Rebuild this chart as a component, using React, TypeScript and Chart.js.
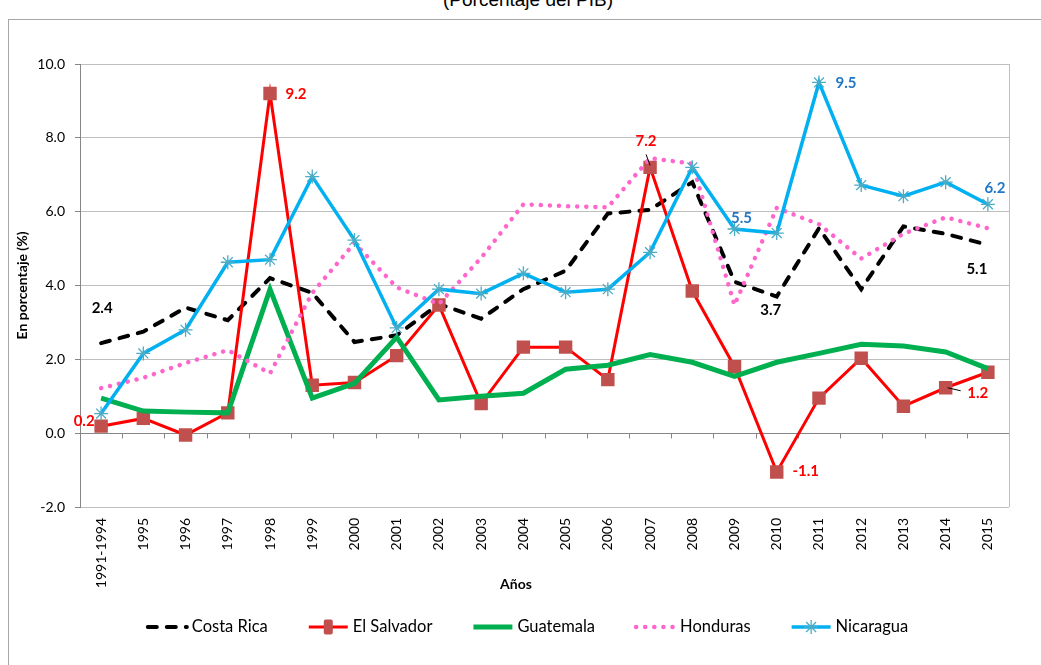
import React, { useEffect, useRef } from "react";
import { Chart, registerables } from "chart.js";

Chart.register(...registerables);

const categories = [
  "1991-1994", "1995", "1996", "1997", "1998", "1999", "2000", "2001", "2002", "2003", "2004",
  "2005", "2006", "2007", "2008", "2009", "2010", "2011", "2012", "2013", "2014", "2015",
];

const seriesNames = ["Costa Rica", "El Salvador", "Guatemala", "Honduras", "Nicaragua"];

const costaRica = [2.44, 2.75, 3.4, 3.06, 4.2, 3.8, 2.47, 2.65, 3.5, 3.1, 3.9, 4.4, 5.95, 6.05, 6.8, 4.1, 3.7, 5.55, 3.9, 5.6, 5.4, 5.1];
const elSalvador = [0.19, 0.4, -0.05, 0.55, 9.2, 1.3, 1.37, 2.1, 3.47, 0.8, 2.33, 2.33, 1.45, 7.2, 3.85, 1.8, -1.05, 0.95, 2.03, 0.73, 1.23, 1.65];
const guatemala = [0.95, 0.6, 0.57, 0.55, 3.9, 0.95, 1.35, 2.6, 0.9, 1.0, 1.08, 1.73, 1.84, 2.13, 1.92, 1.54, 1.92, 2.16, 2.41, 2.36, 2.2, 1.75];
const honduras = [1.22, 1.5, 1.9, 2.25, 1.62, 3.8, 5.15, 3.95, 3.5, 4.75, 6.2, 6.15, 6.12, 7.45, 7.3, 3.47, 6.1, 5.66, 4.73, 5.4, 5.85, 5.55];
const nicaragua = [0.53, 2.16, 2.8, 4.63, 4.7, 6.95, 5.23, 2.85, 3.9, 3.78, 4.33, 3.82, 3.9, 4.9, 7.2, 5.53, 5.42, 9.5, 6.72, 6.42, 6.8, 6.2];

const yMin = -2;
const yMax = 10;
const yStep = 2;

// Which points carry a value label (series index, category index)
const labelledPoints = [
  { series: 0, index: 0 },
  { series: 0, index: 16 },
  { series: 0, index: 21 },
  { series: 1, index: 0 },
  { series: 1, index: 4 },
  { series: 1, index: 13 },
  { series: 1, index: 16 },
  { series: 1, index: 20 },
  { series: 4, index: 17 },
  { series: 4, index: 15 },
  { series: 4, index: 21 },
];

// label placement (pixels, style only)
const labelOffsets = [
  { dx: 1, dy: -35 },
  { dx: -6, dy: 14 },
  { dx: -11, dy: 24 },
  { dx: -17, dy: -5 },
  { dx: 26, dy: 1 },
  { dx: -4, dy: -26, leader: [-4, -13, 0, -2] },
  { dx: 29, dy: -1 },
  { dx: 32, dy: 5, leader: [2, 0, 15, 3] },
  { dx: 27, dy: 1 },
  { dx: 7, dy: -11 },
  { dx: 7, dy: -16 },
];

const labelColors = ["#000000", "#FF0000", "#00B050", "#FF66CC", "#2177C7"];
const FONT = "Lato, 'Open Sans', sans-serif";

function drawMarker(ctx: CanvasRenderingContext2D, style: string, x: number, y: number, r: number, fill: string, stroke: string, legend: boolean) {
  ctx.save();
  if (style === "rect") {
    ctx.fillStyle = fill;
    if (legend) {
      ctx.beginPath();
      const w = 9, h = 15, rr = 2;
      const x0 = x - w / 2, y0 = y - h / 2;
      ctx.moveTo(x0 + rr, y0);
      ctx.lineTo(x0 + w - rr, y0);
      ctx.quadraticCurveTo(x0 + w, y0, x0 + w, y0 + rr);
      ctx.lineTo(x0 + w, y0 + h - rr);
      ctx.quadraticCurveTo(x0 + w, y0 + h, x0 + w - rr, y0 + h);
      ctx.lineTo(x0 + rr, y0 + h);
      ctx.quadraticCurveTo(x0, y0 + h, x0, y0 + h - rr);
      ctx.lineTo(x0, y0 + rr);
      ctx.quadraticCurveTo(x0, y0, x0 + rr, y0);
      ctx.fill();
    } else {
      const s = Math.SQRT1_2 * r;
      ctx.fillRect(x - s, y - s, 2 * s, 2 * s);
    }
  } else if (style === "star") {
    ctx.strokeStyle = stroke;
    ctx.lineWidth = 1.3;
    ctx.setLineDash([]);
    ctx.beginPath();
    for (let k = 0; k < 4; k++) {
      const a = (k * Math.PI) / 4;
      ctx.moveTo(x - Math.cos(a) * r, y - Math.sin(a) * r);
      ctx.lineTo(x + Math.cos(a) * r, y + Math.sin(a) * r);
    }
    ctx.stroke();
  }
  ctx.restore();
}

const decorPlugin = {
  id: "decor",
  beforeDatasetsDraw(chart: any) {
    const { ctx, chartArea, scales } = chart;
    const x = scales.x;
    const y = scales.y;
    const zeroY = Math.round(y.getPixelForValue(0)) + 0.5;
    ctx.save();
    ctx.strokeStyle = "#868686";
    ctx.lineWidth = 1;
    ctx.beginPath();
    ctx.moveTo(chartArea.left, zeroY);
    ctx.lineTo(chartArea.right, zeroY);
    const step = x.getPixelForValue(1) - x.getPixelForValue(0);
    for (let i = 0; i <= categories.length; i++) {
      const px = Math.round(x.getPixelForValue(0) - step / 2 + i * step) + 0.5;
      ctx.moveTo(px, zeroY);
      ctx.lineTo(px, zeroY + 5);
    }
    ctx.stroke();
    ctx.strokeStyle = "#BFBFBF";
    ctx.beginPath();
    ctx.moveTo(Math.round(chartArea.right) + 0.5, chartArea.top);
    ctx.lineTo(Math.round(chartArea.right) + 0.5, chartArea.bottom);
    ctx.stroke();
    ctx.restore();
  },
  afterDatasetsDraw(chart: any) {
    const { ctx } = chart;
    ctx.save();
    ctx.font = `bold 15px ${FONT}`;
    ctx.textAlign = "center";
    ctx.textBaseline = "middle";
    labelledPoints.forEach((lp, k) => {
      const meta = chart.getDatasetMeta(lp.series);
      const pt = meta.data[lp.index];
      const val = chart.data.datasets[lp.series].data[lp.index] as number;
      const off = labelOffsets[k];
      if (off.leader) {
        const l = off.leader;
        ctx.strokeStyle = "#000";
        ctx.lineWidth = 1;
        ctx.setLineDash([]);
        ctx.beginPath();
        ctx.moveTo(pt.x + l[0], pt.y + l[1]);
        ctx.lineTo(pt.x + l[2], pt.y + l[3]);
        ctx.stroke();
      }
      ctx.fillStyle = labelColors[lp.series];
      ctx.fillText(val.toFixed(1), pt.x + off.dx, pt.y + off.dy);
    });
    ctx.restore();
  },
  afterDraw(chart: any) {
    const { ctx, chartArea } = chart;
    ctx.save();
    // axis titles
    ctx.fillStyle = "#000";
    ctx.font = `bold 14px ${FONT}`;
    ctx.textAlign = "center";
    ctx.textBaseline = "middle";
    ctx.fillText("Años", 516, 584);
    ctx.translate(22, (chartArea.top + chartArea.bottom) / 2);
    ctx.rotate(-Math.PI / 2);
    ctx.fillText("En porcentaje (%)", 0, 0);
    ctx.restore();

    // legend
    ctx.save();
    ctx.font = `16.5px ${FONT}`;
    ctx.textBaseline = "middle";
    ctx.textAlign = "left";
    const symW = 43;
    const gapT = 3;
    const gapI = 39;
    const widths = seriesNames.map((n) => ctx.measureText(n).width);
    const total = widths.reduce((a, b) => a + b, 0) + seriesNames.length * (symW + gapT) + (seriesNames.length - 1) * gapI;
    let cx = 527 - total / 2;
    const ly = 627;
    chart.data.datasets.forEach((ds: any, i: number) => {
      ctx.save();
      ctx.strokeStyle = ds.borderColor;
      ctx.lineWidth = ds.borderWidth;
      ctx.lineCap = ds.borderCapStyle || "butt";
      ctx.setLineDash(ds.borderDash || []);
      ctx.beginPath();
      ctx.moveTo(cx + 2, ly);
      ctx.lineTo(cx + symW - 2, ly);
      ctx.stroke();
      ctx.setLineDash([]);
      if (ds.pointStyle && ds.pointRadius > 0) {
        drawMarker(ctx, ds.pointStyle, cx + symW / 2, ly, ds.pointRadius, ds.pointBackgroundColor, ds.pointBorderColor, true);
      }
      ctx.restore();
      ctx.fillStyle = "#000";
      ctx.fillText(seriesNames[i], cx + symW + gapT, ly);
      cx += symW + gapT + widths[i] + gapI;
    });
    ctx.restore();
  },
};

export default function App() {
  const canvasRef = useRef<HTMLCanvasElement | null>(null);

  useEffect(() => {
    const canvas = canvasRef.current;
    if (!canvas) return;
    const chart = new Chart(canvas, {
      type: "line",
      data: {
        labels: categories,
        datasets: [
          {
            label: seriesNames[0],
            data: costaRica,
            borderColor: "#000000",
            borderWidth: 4,
            borderDash: [9, 10],
            borderCapStyle: "round",
            pointRadius: 0,
            pointHoverRadius: 0,
            tension: 0,
            order: 5,
          },
          {
            label: seriesNames[1],
            data: elSalvador,
            borderColor: "#FF0000",
            borderWidth: 3,
            pointStyle: "rect",
            pointRadius: 9.5,
            pointBackgroundColor: "#C0504D",
            pointBorderColor: "#C0504D",
            pointBorderWidth: 0,
            tension: 0,
            order: 4,
          },
          {
            label: seriesNames[2],
            data: guatemala,
            borderColor: "#00B050",
            borderWidth: 5,
            pointRadius: 0,
            pointHoverRadius: 0,
            tension: 0,
            order: 3,
          },
          {
            label: seriesNames[3],
            data: honduras,
            borderColor: "#FF66CC",
            borderWidth: 4.5,
            borderDash: [0.1, 9],
            borderCapStyle: "round",
            pointRadius: 0,
            pointHoverRadius: 0,
            tension: 0,
            order: 2,
          },
          {
            label: seriesNames[4],
            data: nicaragua,
            borderColor: "#00B0F0",
            borderWidth: 3.5,
            pointStyle: "star",
            pointRadius: 7,
            pointBackgroundColor: "#4BACC6",
            pointBorderColor: "#4BACC6",
            pointBorderWidth: 1.3,
            tension: 0,
            order: 1,
          },
        ],
      },
      options: {
        responsive: false,
        animation: false,
        devicePixelRatio: 1,
        layout: { padding: { top: 64, right: 32, left: 0, bottom: 0 } },
        plugins: {
          legend: { display: false },
          tooltip: { enabled: false },
          title: { display: false },
        },
        scales: {
          x: {
            type: "category",
            offset: true,
            grid: { display: false, drawTicks: false },
            border: { display: false },
            ticks: {
              autoSkip: false,
              maxRotation: 90,
              minRotation: 90,
              padding: 11,
              color: "#000",
              font: { family: FONT, size: 14 },
            },
            afterFit: (scale: any) => {
              scale.height = 665 - 507;
            },
          },
          y: {
            min: yMin,
            max: yMax,
            grid: { color: "#BFBFBF", tickColor: "#868686", tickLength: 5, lineWidth: 1 },
            border: { display: true, color: "#868686" },
            ticks: {
              stepSize: yStep,
              padding: 10,
              color: "#000",
              font: { family: FONT, size: 14 },
              callback: (v: any) => Number(v).toFixed(1),
            },
            afterFit: (scale: any) => {
              scale.width = 80;
            },
          },
        },
      },
      plugins: [decorPlugin],
    } as any);
    return () => chart.destroy();
  }, []);

  return (
    <div style={{ position: "absolute", left: 0, top: 0, width: 1041, height: 665, overflow: "hidden", background: "#fff" }}>
      <div
        style={{
          position: "absolute",
          left: 8,
          top: 19,
          width: 1100,
          height: 700,
          border: "1.5px solid #A6A6A6",
        }}
      />
      <div
        style={{
          position: "absolute",
          left: 0,
          top: -10,
          width: 1056,
          textAlign: "center",
          font: "19px 'Liberation Sans', Arial, sans-serif",
          lineHeight: "20px",
          color: "#000",
        }}
      >
        (Porcentaje del PIB)
      </div>
      <canvas ref={canvasRef} width={1041} height={665} style={{ position: "absolute", left: 0, top: 0, display: "block" }} />
    </div>
  );
}
